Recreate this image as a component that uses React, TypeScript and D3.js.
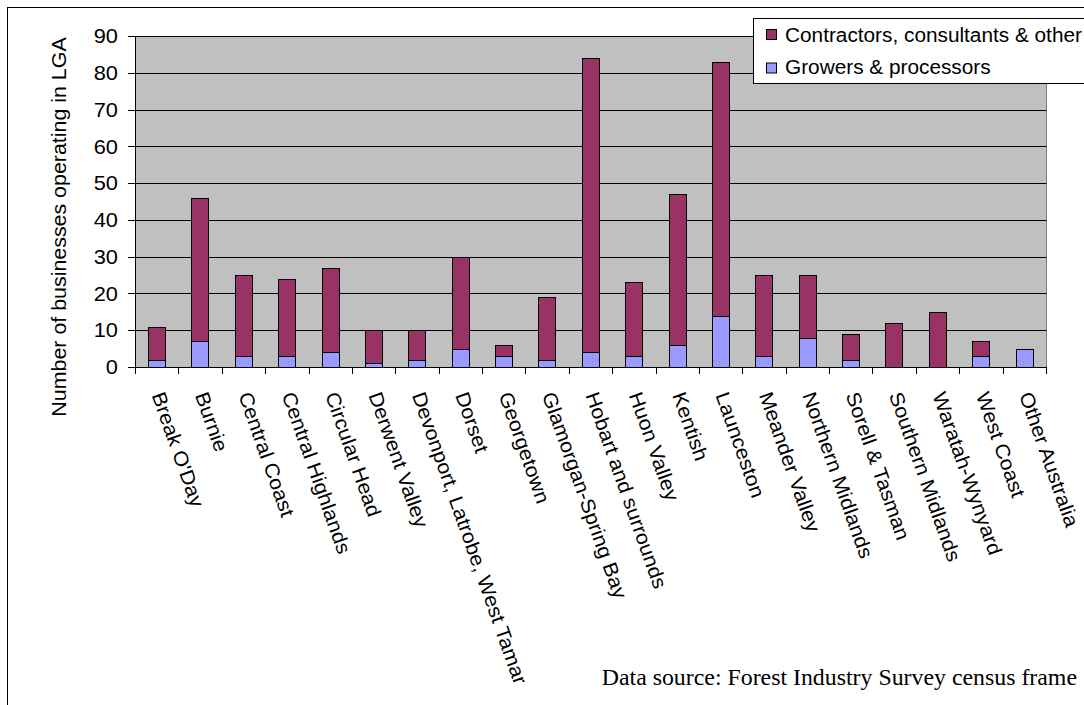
import React from "react";
import * as d3 from "d3";

// Local government areas shown on the category axis
const categories = [
  "Break O'Day",
  "Burnie",
  "Central Coast",
  "Central Highlands",
  "Circular Head",
  "Derwent Valley",
  "Devonport, Latrobe, West Tamar",
  "Dorset",
  "Georgetown",
  "Glamorgan-Spring Bay",
  "Hobart and surrounds",
  "Huon Valley",
  "Kentish",
  "Launceston",
  "Meander Valley",
  "Northern Midlands",
  "Sorell & Tasman",
  "Southern Midlands",
  "Waratah-Wynyard",
  "West Coast",
  "Other Australia",
];

// Number of businesses per LGA, by business type
const growers = [2, 7, 3, 3, 4, 1, 2, 5, 3, 2, 4, 3, 6, 14, 3, 8, 2, 0, 0, 3, 5];
const contractors = [9, 39, 22, 21, 23, 9, 8, 25, 3, 17, 80, 20, 41, 69, 22, 17, 7, 12, 15, 4, 0];

const yTicks = [0, 10, 20, 30, 40, 50, 60, 70, 80, 90];

const seriesKeys = ["growers", "contractors"];
const seriesLabels: Record<string, string> = {
  contractors: "Contractors, consultants & other",
  growers: "Growers & processors",
};
const seriesColors: Record<string, string> = {
  contractors: "#993366",
  growers: "#9999FF",
};

const W = 1084;
const H = 705;
const plot = { left: 135, right: 1046, top: 36, bottom: 367 };
const SANS = "Arial, 'Liberation Sans', sans-serif";
const SERIF = "'Times New Roman', 'Liberation Serif', serif";

export default function App() {
  const rows = categories.map((c, i) => ({
    category: c,
    growers: growers[i],
    contractors: contractors[i],
  }));
  const stacked = d3.stack<any>().keys(seriesKeys)(rows);

  const x = d3
    .scaleBand<string>()
    .domain(categories)
    .range([plot.left, plot.right])
    .paddingInner(0.6)
    .paddingOuter(0.3);
  const step = x.step();
  const y = d3.scaleLinear().domain([0, 90]).range([plot.bottom, plot.top]);
  const crisp = (v: number) => Math.round(v) + 0.5;

  const boundaries = d3.range(categories.length + 1).map((i) => plot.left + i * step);

  return (
    <svg
      width={W}
      height={H}
      style={{ position: "absolute", left: 0, top: 0, display: "block", background: "#fff" }}
    >
      {/* chart frame */}
      <rect x={7.5} y={7.5} width={1200} height={800} fill="#fff" stroke="#000" strokeWidth={1} />

      {/* plot area */}
      <rect
        x={plot.left + 0.5}
        y={plot.top + 0.5}
        width={plot.right - plot.left}
        height={plot.bottom - plot.top}
        fill="#C0C0C0"
        stroke="#808080"
        strokeWidth={1}
      />

      {/* gridlines */}
      {yTicks.map((t) => (
        <line
          key={"g" + t}
          x1={plot.left}
          x2={plot.right + 0.5}
          y1={crisp(y(t))}
          y2={crisp(y(t))}
          stroke="#000"
          strokeWidth={1}
        />
      ))}

      {/* stacked bars */}
      {stacked.map((s) => (
        <g key={s.key}>
          {s.map((d, i) =>
            d[1] - d[0] > 0 ? (
              <rect
                key={i}
                x={Math.round(x(categories[i])!) + 0.5}
                y={crisp(y(d[1]))}
                width={Math.round(x.bandwidth())}
                height={Math.round(y(d[0])) - Math.round(y(d[1]))}
                fill={seriesColors[s.key]}
                stroke="#000"
                strokeWidth={1}
              />
            ) : null
          )}
        </g>
      ))}

      {/* value axis */}
      <line x1={crisp(plot.left)} x2={crisp(plot.left)} y1={plot.top} y2={plot.bottom + 1} stroke="#000" />
      {yTicks.map((t) => (
        <g key={"yt" + t}>
          <line x1={plot.left - 7} x2={plot.left} y1={crisp(y(t))} y2={crisp(y(t))} stroke="#000" />
          <text
            transform={`translate(118,${y(t) + 7.2}) scale(1.09,1)`}
            textAnchor="end"
            fontFamily={SANS}
            fontSize={20}
            fill="#000"
          >
            {t}
          </text>
        </g>
      ))}
      <text
        transform="translate(66,227) rotate(-90) scale(1.07,1)"
        textAnchor="middle"
        fontFamily={SANS}
        fontSize={20}
        fill="#000"
      >
        Number of businesses operating in LGA
      </text>

      {/* category axis */}
      <line x1={plot.left} x2={plot.right + 1} y1={crisp(plot.bottom)} y2={crisp(plot.bottom)} stroke="#000" />
      {boundaries.map((bx, i) => (
        <line
          key={"xt" + i}
          x1={crisp(bx)}
          x2={crisp(bx)}
          y1={plot.bottom}
          y2={plot.bottom + 7}
          stroke="#000"
        />
      ))}
      {categories.map((c) => {
        const cx = x(c)! + x.bandwidth() / 2;
        return (
          <text
            key={"xl" + c}
            transform={`translate(${cx - 5.3},395) rotate(70.5) scale(1.07,1)`}
            textAnchor="start"
            fontFamily={SANS}
            fontSize={20}
            fill="#000"
          >
            {c}
          </text>
        );
      })}

      {/* legend */}
      <rect x={753.5} y={18.5} width={400} height={65} fill="#fff" stroke="#000" strokeWidth={1} />
      {["contractors", "growers"].map((k, i) => (
        <g key={"lg" + k}>
          <rect
            x={766.5}
            y={29.5 + i * 33.5}
            width={10}
            height={10}
            fill={seriesColors[k]}
            stroke="#000"
            strokeWidth={1}
          />
          <text
            transform={`translate(785,${41.5 + i * 32}) scale(1.04,1)`}
            fontFamily={SANS}
            fontSize={20}
            fill="#000"
          >
            {seriesLabels[k]}
          </text>
        </g>
      ))}

      {/* source note */}
      <text
        transform="translate(1077,685) scale(1.06,1)"
        textAnchor="end"
        fontFamily={SERIF}
        fontSize={22.5}
        fill="#000"
      >
        Data source: Forest Industry Survey census frame
      </text>
    </svg>
  );
}
